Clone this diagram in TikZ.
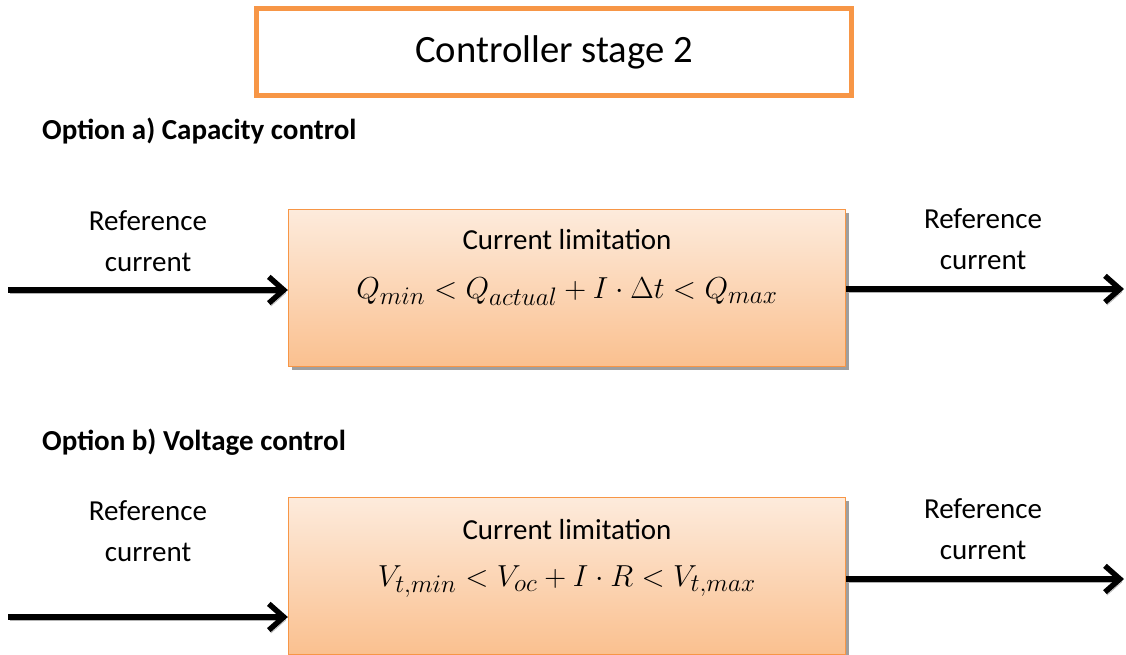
\documentclass[tikz,border=0pt]{standalone}
\usepackage{fontspec}
\setmainfont{Carlito}
\usepackage{tikz}
\usetikzlibrary{positioning,arrows.meta,shadows}
\definecolor{naranja}{HTML}{F79646}
\definecolor{durazno}{HTML}{FDEBDC}
\definecolor{durazno2}{HTML}{FAC08F}
\tikzset{titulo/.style={draw=naranja, line width=2.6pt, minimum width=11.9cm, minimum height=1.74cm, font=\fontsize{22}{26}\selectfont}}
\tikzset{bloque/.style={draw=naranja, line width=0.8pt, top color=durazno, bottom color=durazno2, minimum width=11.14cm, minimum height=3.14cm, drop shadow={shadow xshift=1.8pt, shadow yshift=-1.8pt, fill=gray!75, opacity=1}}}
\tikzset{etiqueta/.style={align=center, font=\fontsize{16.5}{23.3}\selectfont}}
\tikzset{flecha/.style={line width=3.1pt, -{Straight Barb[length=8.5pt, width=15pt, line width=3.1pt]}, preaction={draw=gray!60, transform canvas={xshift=1.1pt, yshift=-1.7pt}}}}

\begin{document}
\begin{tikzpicture}[x=0.02cm, y=-0.02cm]
            \useasboundingbox (0,0) rectangle (1126,654);
            \clip (0,0) rectangle (1126,654);

            \node[titulo] (tit) at (554,52) {Controller stage 2};

            % opcion a
            \node[anchor=west, font=\fontsize{16.5}{20}\selectfont\bfseries] (opta) at (36,131) {Option a) Capacity control};
            \node[bloque] (boxa) at (567,288) {};
            \node[etiqueta] (lima) at (567,240) {Current limitation};
            \node[font=\fontsize{19}{22}\selectfont] (eqa) at (567,292) {$Q_{min} < Q_{actual} + I\cdot\Delta t < Q_{max}$};
            \node[etiqueta] (refina) at (148,241) {Reference\\current};
            \node[etiqueta] (refouta) at (983,239) {Reference\\current};
            \coordinate (ina) at (8,290);
            \coordinate (outa) at (1124,289);

            \draw[flecha] (ina) -- (ina -| boxa.west);
            \draw[flecha] (boxa.east |- outa) -- (outa);

            % opcion b
            \node[anchor=west, font=\fontsize{16.5}{20}\selectfont\bfseries] (optb) at (36,442) {Option b) Voltage control};
            \node[bloque] (boxb) at (567,576) {};
            \node[etiqueta] (limb) at (567,530) {Current limitation};
            \node[font=\fontsize{19}{22}\selectfont] (eqb) at (567,582) {$V_{t,min} < V_{oc} + I\cdot R < V_{t,max}$};
            \node[etiqueta] (refinb) at (148,531) {Reference\\current};
            \node[etiqueta] (refoutb) at (983,529) {Reference\\current};
            \coordinate (inb) at (8,617);
            \coordinate (outb) at (1124,579);

            \draw[flecha] (inb) -- (inb -| boxb.west);
            \draw[flecha] (boxb.east |- outb) -- (outb);
\end{tikzpicture}
\end{document}
